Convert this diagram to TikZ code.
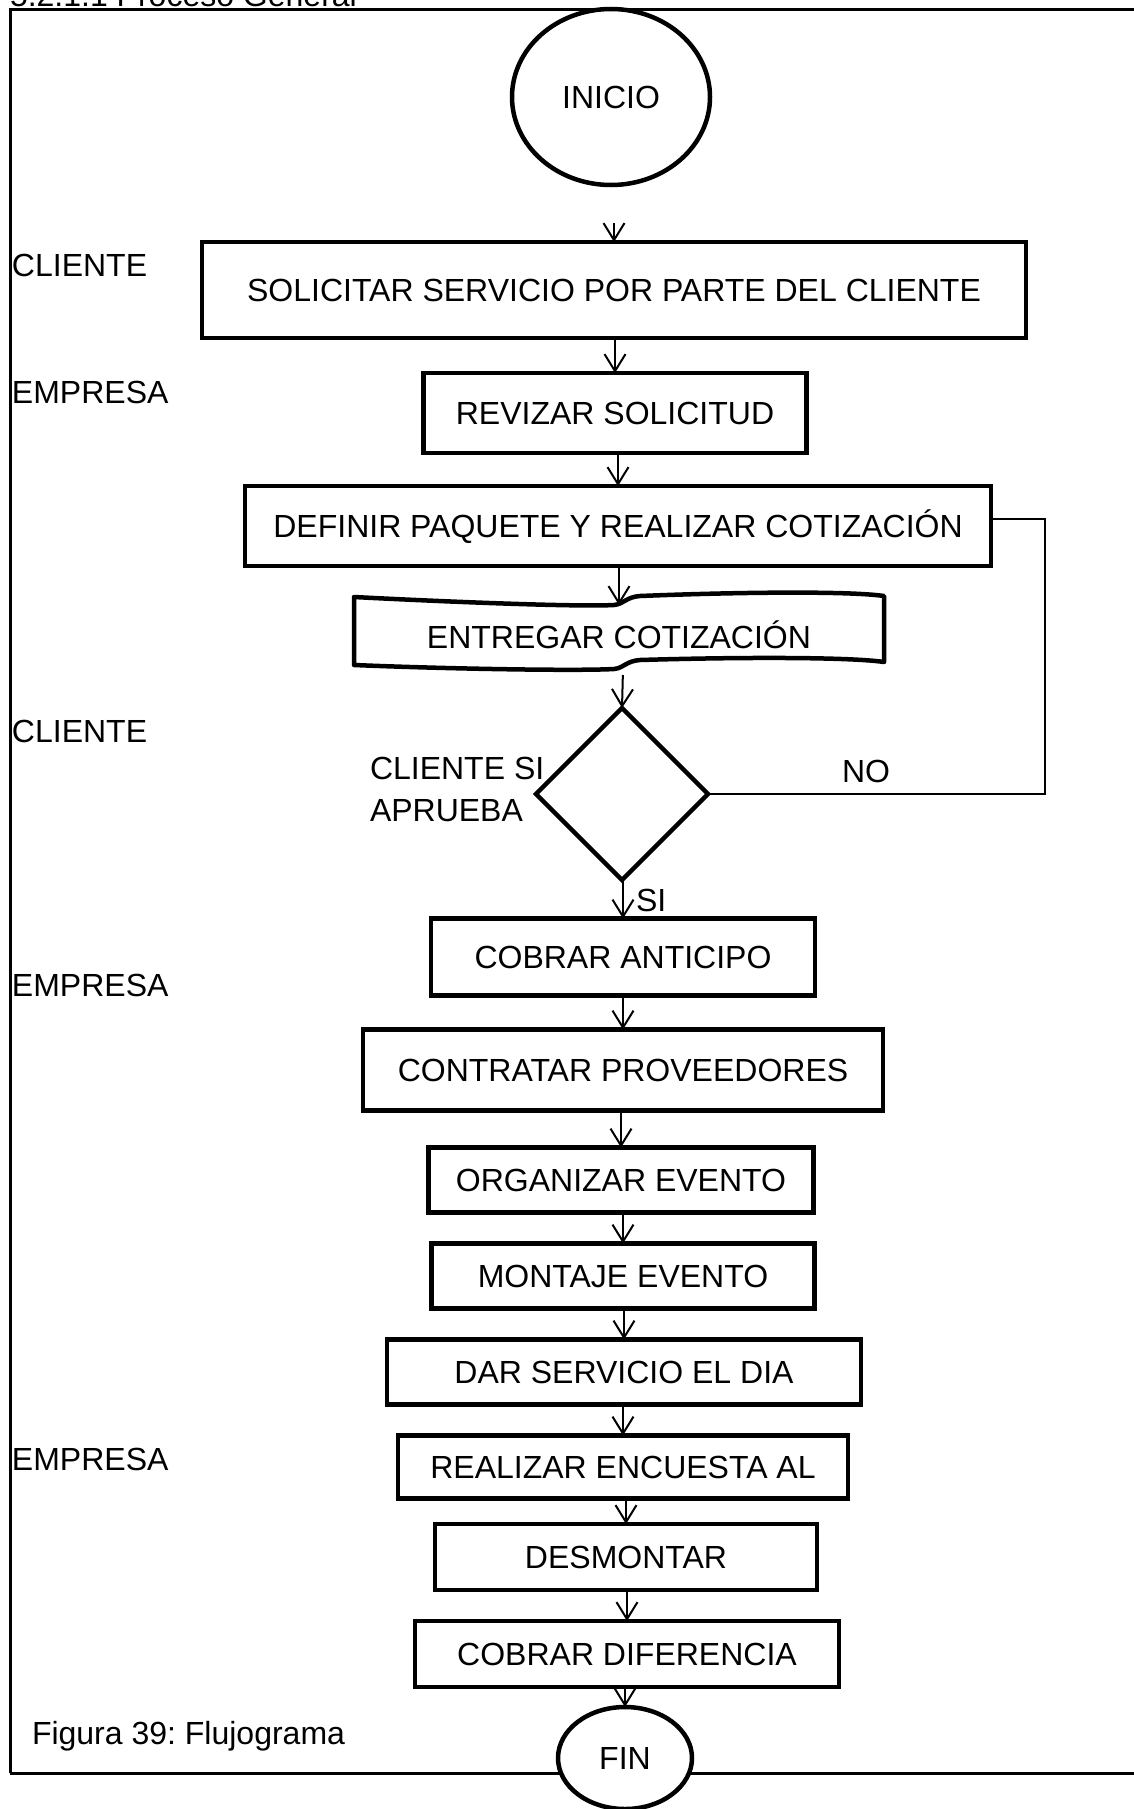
\documentclass[tikz,border=0pt]{standalone}
\usepackage{fontspec}
\setmainfont{Liberation Sans}
\usetikzlibrary{shapes.geometric,arrows.meta}
\frenchspacing
\begin{document}
\begin{tikzpicture}[x=1pt,y=-1pt,
  every node/.style={font=\fontsize{32}{38}\selectfont\frenchspacing, inner sep=0pt, outer sep=0pt},
  box/.style={draw, line width=4.5pt, fill=white, text height=23pt, text depth=0pt},
  term/.style={draw, ellipse, line width=4.5pt, fill=white, text height=23pt, text depth=0pt},
  arr/.style={line width=2pt, -{Straight Barb[length=17pt,width=21pt,line width=2pt]}},
  link/.style={line width=2pt},
  lbl/.style={anchor=base west}]
\useasboundingbox (0,0) rectangle (1134,1809);
\clip (0,0) rectangle (1134,1809);
\fill[white] (0,0) rectangle (1134,1809);

% title (cut at top) and frame
\node[lbl] (title) at (10,7) {5.2.1.1 Proceso General};
\draw[line width=3pt] (10,1773) -- (10,10) -- (1160,10);
\draw[line width=3pt] (10,1773) -- (1160,1773);

% terminals and steps
\node[term, minimum width=198pt, minimum height=176pt] (ini) at (611,97) {INICIO};
\node[box, minimum width=824pt, minimum height=96pt] (sol) at (614,290) {SOLICITAR SERVICIO POR PARTE DEL CLIENTE};
\node[box, minimum width=383pt, minimum height=80pt] (rev) at (615,413) {REVIZAR SOLICITUD};
\node[box, minimum width=746pt, minimum height=80pt] (def) at (618,526) {DEFINIR PAQUETE Y REALIZAR COTIZACIÓN};

% document / tape shape
\draw[line width=4.5pt, line join=round]
  (354,597) .. controls (450,602) and (580,607) .. (614,605)
  .. controls (624,604) and (626,597) .. (640,596)
  .. controls (740,592) and (850,591) .. (884,596)
  -- (884,662)
  .. controls (850,657) and (740,657) .. (640,660)
  .. controls (626,661) and (624,668) .. (614,669)
  .. controls (580,671) and (450,669) .. (354,665) -- cycle;
\node[text height=23pt, text depth=0pt] (ent) at (619,637) {ENTREGAR COTIZACIÓN};
\coordinate (enttop) at (619,605);
\coordinate (entbot) at (623,669);

\node[draw, diamond, aspect=1, line width=4.5pt, minimum width=172pt, minimum height=172pt] (dec) at (622,794) {};
\node[box, minimum width=384pt, minimum height=77pt] (cob) at (623,957) {COBRAR ANTICIPO};
\node[box, minimum width=520pt, minimum height=81pt] (con) at (623,1070) {CONTRATAR PROVEEDORES};
\node[box, minimum width=385pt, minimum height=65pt] (org) at (621,1180) {ORGANIZAR EVENTO};
\node[box, minimum width=383pt, minimum height=65pt] (mon) at (623,1276) {MONTAJE EVENTO};
\node[box, minimum width=474pt, minimum height=65pt] (dar) at (624,1372) {DAR SERVICIO EL DIA};
\node[box, minimum width=450pt, minimum height=63pt] (rea) at (623,1467) {REALIZAR ENCUESTA AL};
\node[box, minimum width=382pt, minimum height=66pt] (des) at (626,1557) {DESMONTAR};
\node[box, minimum width=424pt, minimum height=66pt] (cobd) at (627,1654) {COBRAR DIFERENCIA};
\node[term, minimum width=134pt, minimum height=102pt] (fin) at (625,1758) {FIN};

% side labels
\node[lbl] (l1) at (12,276) {CLIENTE};
\node[lbl] (l2) at (12,403) {EMPRESA};
\node[lbl] (l3) at (12,742) {CLIENTE};
\node[lbl] (l4) at (12,996) {EMPRESA};
\node[lbl] (l5) at (12,1470) {EMPRESA};
\node[lbl] (fig) at (32,1744) {Figura 39: Flujograma};
\node[lbl] (q1) at (370,779) {CLIENTE SI};
\node[lbl] (q2) at (370,821) {APRUEBA};
\node[lbl] (no) at (842,782) {NO};
\node[lbl] (si) at (636,911) {SI};

% connectors
\draw[arr, shorten <=38pt] (ini.south -| sol.north) -- (sol.north);
\draw[arr] (sol.south -| rev.north) -- (rev.north);
\draw[arr] (rev.south -| def.north) -- (def.north);
\draw[arr] (def.south -| enttop) -- (enttop);
\draw[arr, shorten <=6pt] (entbot) -- (dec.north);
\draw[arr] (dec.south -| cob.north) -- (cob.north);
\draw[arr] (cob.south -| con.north) -- (con.north);
\draw[arr] (con.south -| org.north) -- (org.north);
\draw[arr] (org.south -| mon.north) -- (mon.north);
\draw[arr] (mon.south -| dar.north) -- (dar.north);
\draw[arr] (dar.south -| rea.north) -- (rea.north);
\draw[arr] (rea.south -| des.north) -- (des.north);
\draw[arr] (des.south -| cobd.north) -- (cobd.north);
\draw[arr] (cobd.south -| fin.north) -- (fin.north);
\coordinate (nc) at (1045,519);
\draw[link] (dec.east) -| (nc) -- (nc -| def.east);
\end{tikzpicture}
\end{document}
